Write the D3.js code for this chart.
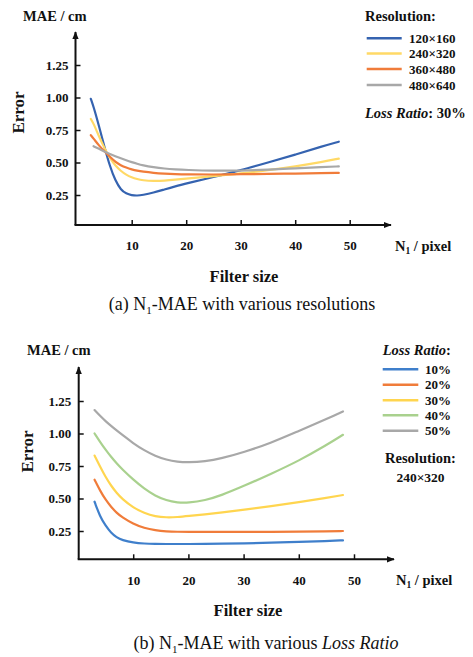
<!DOCTYPE html>
<meta charset="utf-8">
<script src="https://d3js.org/d3.v7.min.js"></script>
<style>
  body { margin: 0; background: #fff; }
  text { font-family: "Liberation Serif", "Times New Roman", serif; fill: #111; }
</style>
<div id="chart"></div>
<script>

// ---- data ----
// (a) various resolutions, loss ratio 30%
var sizesA = [2.5, 3, 4, 5, 6, 7, 8, 9, 10, 11, 12, 14, 16, 18, 20, 25, 30, 35, 40, 45, 48];
var resolutions = ["120×160", "240×320", "360×480", "480×640"];
var res120 = [0.99, 0.93, 0.78, 0.62, 0.47, 0.36, 0.29, 0.26, 0.248, 0.245, 0.25, 0.268, 0.293, 0.317, 0.338, 0.388, 0.44, 0.50, 0.56, 0.625, 0.66];
var res240 = [0.835, 0.80, 0.70, 0.61, 0.535, 0.475, 0.435, 0.405, 0.385, 0.372, 0.363, 0.357, 0.36, 0.368, 0.377, 0.395, 0.415, 0.44, 0.47, 0.505, 0.53];
var res360 = [0.71, 0.685, 0.63, 0.585, 0.545, 0.505, 0.478, 0.46, 0.447, 0.437, 0.43, 0.42, 0.414, 0.41, 0.408, 0.407, 0.41, 0.412, 0.415, 0.418, 0.42];
var res480 = [null, 0.625, 0.605, 0.585, 0.565, 0.548, 0.532, 0.517, 0.503, 0.49, 0.478, 0.463, 0.453, 0.447, 0.443, 0.436, 0.437, 0.445, 0.455, 0.465, 0.47];

// (b) various loss ratios, resolution 240×320
var sizesB = [3, 4, 5, 6, 7, 8, 10, 12, 14, 16, 18, 20, 23, 26, 30, 35, 40, 45, 48];
var lossRatios = ["10%", "20%", "30%", "40%", "50%"];
var loss10 = [0.475, 0.36, 0.29, 0.235, 0.20, 0.18, 0.16, 0.153, 0.151, 0.15, 0.15, 0.15, 0.151, 0.152, 0.155, 0.16, 0.167, 0.173, 0.178];
var loss20 = [0.645, 0.56, 0.49, 0.435, 0.39, 0.355, 0.305, 0.272, 0.255, 0.247, 0.244, 0.243, 0.243, 0.243, 0.243, 0.244, 0.245, 0.248, 0.25];
var loss30 = [0.83, 0.745, 0.665, 0.598, 0.543, 0.497, 0.43, 0.388, 0.362, 0.354, 0.357, 0.365, 0.378, 0.393, 0.413, 0.44, 0.472, 0.505, 0.527];
var loss40 = [1.00, 0.935, 0.875, 0.82, 0.77, 0.725, 0.645, 0.575, 0.52, 0.485, 0.468, 0.466, 0.485, 0.525, 0.595, 0.69, 0.79, 0.91, 0.99];
var loss50 = [1.18, 1.135, 1.095, 1.058, 1.023, 0.99, 0.925, 0.87, 0.827, 0.798, 0.782, 0.777, 0.785, 0.808, 0.855, 0.928, 1.02, 1.11, 1.17];

var xTicks = [10, 20, 30, 40, 50];
var yTicks = [0.25, 0.50, 0.75, 1.00, 1.25];

var colorsA = ["#3563B0", "#FFD966", "#F07C3A", "#A8A8A8"];
var colorsB = ["#3F7FCB", "#F07C3A", "#FFD54F", "#A9D18E", "#A8A8A8"];

var svg = d3.select("#chart")
  .append("svg")
    .attr("width", 473)
    .attr("height", 657);

svg.append("defs").append("marker")
    .attr("id", "arrow")
    .attr("viewBox", "0 0 10 10")
    .attr("refX", 9).attr("refY", 5)
    .attr("markerWidth", 4).attr("markerHeight", 4)
    .attr("markerUnits", "strokeWidth")
    .attr("orient", "auto")
  .append("path")
    .attr("d", "M0,1L10,5L0,9Z")
    .style("fill", "#111");

// draws one panel: axes, labels, curves
function panel(p) {
  var x = d3.scaleLinear().domain([0, 50]).range([p.x0, p.x50]);
  var y = d3.scaleLinear().domain([0, 1.25]).range([p.y0, p.y125]);

  // axis lines with arrows
  svg.append("line")
    .attr("x1", p.axX).attr("y1", p.axY).attr("x2", p.axX).attr("y2", p.top)
    .style("stroke", "#111").style("stroke-width", 2).attr("marker-end", "url(#arrow)");
  svg.append("line")
    .attr("x1", p.axX - 1).attr("y1", p.axY).attr("x2", p.right).attr("y2", p.axY)
    .style("stroke", "#111").style("stroke-width", 2).attr("marker-end", "url(#arrow)");

  // y axis ticks (inward) + labels
  var ya = svg.append("g")
    .attr("transform", "translate(" + p.axX + ",0)")
    .call(d3.axisLeft(y).tickValues(yTicks).tickFormat(d3.format(".2f"))
      .tickSizeInner(-5).tickSizeOuter(0).tickPadding(p.yPad));
  ya.select(".domain").remove();
  ya.selectAll("line").style("stroke", "#111").style("stroke-width", 1.5);
  ya.selectAll("text").style("font-family", "Liberation Serif").style("font-size", "13px")
    .style("font-weight", "bold").style("fill", "#111");

  // x axis ticks (inward) + labels
  var xa = svg.append("g")
    .attr("transform", "translate(0," + p.axY + ")")
    .call(d3.axisBottom(x).tickValues(xTicks)
      .tickSizeInner(-5).tickSizeOuter(0).tickPadding(16));
  xa.select(".domain").remove();
  xa.selectAll("line").style("stroke", "#111").style("stroke-width", 1.5);
  xa.selectAll("text").style("font-family", "Liberation Serif").style("font-size", "13px")
    .style("font-weight", "bold").style("fill", "#111");

  // curves
  var line = d3.line()
    .defined(function(d) { return d[1] != null; })
    .x(function(d) { return x(d[0]); })
    .y(function(d) { return y(d[1]); })
    .curve(d3.curveBasis);
  p.series.forEach(function(s, i) {
    svg.append("path")
      .datum(p.sizes.map(function(n, j) { return [n, s[j]]; }))
      .attr("d", line)
      .style("fill", "none")
      .style("stroke", p.colors[i])
      .style("stroke-width", 2.2)
      .style("stroke-linecap", "round");
  });

  // labels
  svg.append("text").attr("x", p.maeX).attr("y", p.maeY)
    .text("MAE / cm").style("font-size", "14.5px").style("font-weight", "bold");
  svg.append("text")
    .attr("transform", "translate(" + p.errX + "," + p.errY + ")rotate(-90)")
    .attr("text-anchor", "middle")
    .text("Error").style("font-size", "17px").style("font-weight", "bold");
  var n1 = svg.append("text").attr("x", p.nX).attr("y", p.axY + 25.5)
    .style("font-size", "14.5px").style("font-weight", "bold");
  n1.append("tspan").text("N");
  n1.append("tspan").text("1").attr("dy", 3).style("font-size", "9.5px");
  n1.append("tspan").text(" / pixel").attr("dy", -3);
  svg.append("text").attr("x", p.fsX).attr("y", p.fsY).attr("text-anchor", "middle")
    .text("Filter size").style("font-size", "16.5px").style("font-weight", "bold");
}

panel({
  x0: 77.2, x50: 349.7, y0: 227.5, y125: 65,
  axX: 75.5, axY: 225, top: 32, right: 391, yPad: 7,
  sizes: sizesA, series: [res120, res240, res360, res480], colors: colorsA,
  maeX: 23, maeY: 20.5, errX: 24, errY: 112.5, nX: 395, fsX: 244, fsY: 282
});

panel({
  x0: 78, x50: 354, y0: 563.5, y125: 401,
  axX: 78.7, axY: 559.3, top: 367, right: 394, yPad: 7.5,
  sizes: sizesB, series: [loss10, loss20, loss30, loss40, loss50], colors: colorsB,
  maeX: 27, maeY: 355, errX: 33, errY: 451.5, nX: 396, fsX: 248, fsY: 616
});

// captions
var capA = svg.append("text").attr("x", 242).attr("y", 310).attr("text-anchor", "middle")
  .style("font-size", "18px");
capA.append("tspan").text("(a) N");
capA.append("tspan").text("1").attr("dy", 4).style("font-size", "11px");
capA.append("tspan").text("-MAE with various resolutions").attr("dy", -4);

var capB = svg.append("text").attr("x", 266).attr("y", 649).attr("text-anchor", "middle")
  .style("font-size", "18px");
capB.append("tspan").text("(b) N");
capB.append("tspan").text("1").attr("dy", 4).style("font-size", "11px");
capB.append("tspan").text("-MAE with various ").attr("dy", -4);
capB.append("tspan").text("Loss Ratio").style("font-style", "italic");

// legend (a)
svg.append("text").attr("x", 365).attr("y", 20.5)
  .text("Resolution:").style("font-size", "14.5px").style("font-weight", "bold");
var legA = svg.append("g").selectAll("g")
  .data(resolutions)
  .enter().append("g")
    .attr("transform", function(d, i) { return "translate(0," + [38.3, 53.5, 69, 85][i] + ")"; });
legA.append("line").attr("x1", 366.7).attr("x2", 401.7)
  .style("stroke", function(d, i) { return colorsA[i]; }).style("stroke-width", 2.5);
legA.append("text").attr("x", 409).attr("y", 4.5).text(function(d) { return d; })
  .style("font-size", "13px").style("font-weight", "bold");
var lr = svg.append("text").attr("x", 365).attr("y", 117.5)
  .style("font-size", "14.5px").style("font-weight", "bold");
lr.append("tspan").text("Loss Ratio").style("font-style", "italic");
lr.append("tspan").text(": 30%");

// legend (b)
var lr2 = svg.append("text").attr("x", 382.7).attr("y", 355)
  .style("font-size", "14.5px").style("font-weight", "bold");
lr2.append("tspan").text("Loss Ratio").style("font-style", "italic");
lr2.append("tspan").text(":");
var legB = svg.append("g").selectAll("g")
  .data(lossRatios)
  .enter().append("g")
    .attr("transform", function(d, i) { return "translate(0," + [369.3, 384.7, 400.3, 415.3, 430.7][i] + ")"; });
legB.append("line").attr("x1", 382.7).attr("x2", 418.3)
  .style("stroke", function(d, i) { return colorsB[i]; }).style("stroke-width", 2.5);
legB.append("text").attr("x", 425).attr("y", 4.5).text(function(d) { return d; })
  .style("font-size", "13px").style("font-weight", "bold");
svg.append("text").attr("x", 420.5).attr("y", 463).attr("text-anchor", "middle")
  .text("Resolution:").style("font-size", "14.5px").style("font-weight", "bold");
svg.append("text").attr("x", 420.5).attr("y", 481.5).attr("text-anchor", "middle")
  .text("240×320").style("font-size", "13.5px").style("font-weight", "bold");

</script>
